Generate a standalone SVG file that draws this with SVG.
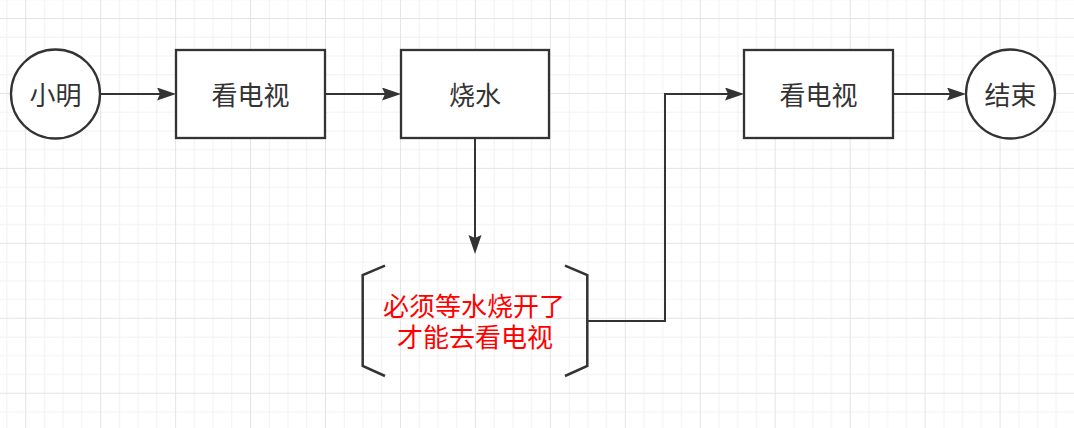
<svg xmlns="http://www.w3.org/2000/svg" width="1074" height="428" viewBox="0 0 1074 428">
  <style>
    .node { fill: #ffffff; stroke: #333333; stroke-width: 2.3; }
    .label { font-family: "Noto Sans CJK SC", "Noto Sans", sans-serif; font-size: 26px; fill: #333333; text-anchor: middle; }
    .note { font-family: "Noto Sans CJK SC", "Noto Sans", sans-serif; font-size: 26px; fill: #ff0000; text-anchor: middle; }
    .conn { fill: none; stroke: #333333; stroke-width: 2; marker-end: url(#arrow); }
    .bracket { fill: none; stroke: #333333; stroke-width: 2.5; }
    .minor { fill: #f1f1f1; }
    .major { fill: #e4e4e4; }
  </style>
  <defs>
    <marker id="arrow" markerUnits="userSpaceOnUse" markerWidth="20" markerHeight="14" refX="16" refY="6.5" orient="auto" viewBox="0 0 20 14">
      <path d="M0,0 L19,6.5 L0,13 L3,6.5 Z" fill="#333333"/>
    </marker>
    <pattern id="grid" patternUnits="userSpaceOnUse" x="25.2" y="18" width="74.95" height="74.95">
      <rect class="minor" x="18.74" y="0" width="1" height="74.95"/>
      <rect class="minor" x="37.48" y="0" width="1" height="74.95"/>
      <rect class="minor" x="56.21" y="0" width="1" height="74.95"/>
      <rect class="minor" x="0" y="18.74" width="74.95" height="1"/>
      <rect class="minor" x="0" y="37.48" width="74.95" height="1"/>
      <rect class="minor" x="0" y="56.21" width="74.95" height="1"/>
      <rect class="major" x="0" y="0" width="1" height="74.95"/>
      <rect class="major" x="0" y="0" width="74.95" height="1"/>
    </pattern>
  </defs>
  <rect x="0" y="0" width="1074" height="428" fill="#ffffff"/>
  <rect x="0" y="0" width="1074" height="428" fill="url(#grid)"/>

  <g id="connectors">
    <path class="conn" d="M101,94 L173,94"/>
    <path class="conn" d="M325,94 L398,94"/>
    <path class="conn" d="M475,138 L475,251"/>
    <path class="conn" d="M588,321 L665,321 L665,94 L741,94"/>
    <path class="conn" d="M893,94 L963,94"/>
  </g>

  <g id="node-xiaoming">
    <circle class="node" cx="55.5" cy="94" r="44.5"/>
    <text class="label" x="55.5" y="104.5">小明</text>
  </g>
  <g id="node-tv1">
    <rect class="node" x="176" y="50" width="149" height="88"/>
    <text class="label" x="250.5" y="104.5">看电视</text>
  </g>
  <g id="node-boil">
    <rect class="node" x="401" y="50" width="148" height="88"/>
    <text class="label" x="475" y="104.5">烧水</text>
  </g>
  <g id="node-note">
    <path class="bracket" d="M385,265.7 L362.7,275 L362.7,366 L385,376"/>
    <path class="bracket" d="M565,265.7 L587.3,275 L587.3,366 L565,376"/>
    <text class="note"><tspan x="474" y="316">必须等水烧开了</tspan><tspan x="475" y="346.5">才能去看电视</tspan></text>
  </g>
  <g id="node-tv2">
    <rect class="node" x="744" y="50" width="149" height="88"/>
    <text class="label" x="818.5" y="104.5">看电视</text>
  </g>
  <g id="node-end">
    <circle class="node" cx="1010.5" cy="94" r="44.5"/>
    <text class="label" x="1010.5" y="104.5">结束</text>
  </g>
</svg>
